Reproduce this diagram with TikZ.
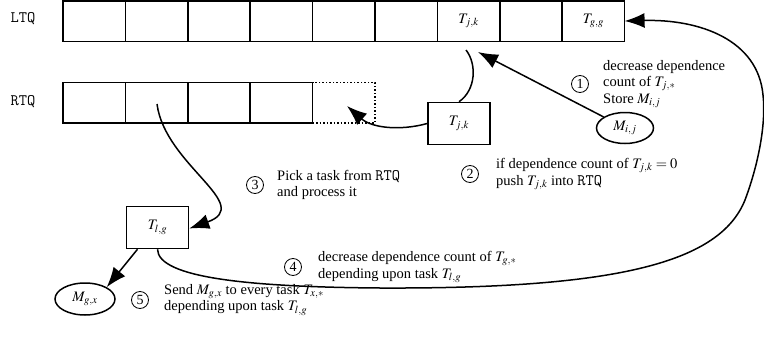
\documentclass[tikz,border=0pt]{standalone}
\usepackage{mathptmx}
\usepackage{fontspec}
\setmainfont{Liberation Serif}
\usetikzlibrary{arrows.meta,shapes.geometric}
\newcommand\qtt[1]{{\fontsize{16}{16}\selectfont\ttfamily #1}}
\tikzset{
  base/.style={line width=1.5pt},
  cell/.style={base,draw,rectangle,minimum width=62.4pt,minimum height=40.5pt,inner sep=0pt,outer sep=0pt},
  taskbox/.style={base,draw,rectangle,minimum width=62pt,minimum height=42pt,inner sep=0pt},
  msg/.style={base,draw,ellipse,minimum width=57pt,minimum height=31pt,inner sep=0pt},
  num/.style={draw,circle,line width=0.8pt,minimum size=17pt,inner sep=0pt,font=\fontsize{14}{15}\selectfont},
  txt/.style={anchor=west,align=left,inner sep=0pt,font=\fontsize{14.5}{16.5}\selectfont},
  qlabel/.style={inner sep=0pt},
  arr/.style={base,-{Latex[length=20pt,width=15pt]}},
  conn/.style={base}
}
\begin{document}
\begin{tikzpicture}[x=1pt,y=-1pt,every node/.append style={font=\fontsize{14.5}{16.5}\selectfont}]
\useasboundingbox (0,0) rectangle (764,343);
% queues
\node[qlabel] (ltq) at (23,19) {\qtt{LTQ}};
\node[qlabel] (rtq) at (23,102) {\qtt{RTQ}};
\foreach \i in {1,...,9} {
  \node[cell] (l\i) at ({63+62.4*(\i-0.5)},21) {};
}
\node at (l7) {$T_{j,k}$};
\node at (l9) {$T_{g,g}$};
\foreach \i in {1,...,4} {
  \node[cell] (r\i) at ({63+62.4*(\i-0.5)},102.5) {};
}
\node[cell,dotted] (r5) at ({63+62.4*4.5},102.5) {};
% tasks and messages
\node[taskbox] (tjk) at (459,123.5) {$T_{j,k}$};
\node[msg] (mij) at (625,128) {$M_{i,j}$};
\node[taskbox] (tlg) at (157.5,227.5) {$T_{l,g}$};
\node[msg,minimum width=60pt,minimum height=32pt] (mgx) at (85,299) {$M_{g,x}$};
% coordinates
\coordinate (a1) at (478,52);
\coordinate (c2s) at (466,50);
\coordinate (r2in) at (157,104);
\coordinate (dt) at (347,106);
% connectors
\draw[arr] (mij) -- (a1);
\draw[conn] (c2s) .. controls (477,64) and (476,90) .. (tjk.north);
\draw[arr] (tjk.west) .. controls (400,131) and (372,128) .. (dt);
\draw[arr] (r2in) .. controls (165,165) and (255,205) .. ([yshift=-1pt]tlg.east);
\draw[arr] ([xshift=-20pt]tlg.south) -- (mgx.north east);
\draw[arr] (tlg.south) .. controls (158,278) and (250,287) .. (380,288)
   .. controls (620,289) and (720,262) .. (745,200)
   .. controls (760,160) and (766,120) .. (763,95)
   .. controls (758,40) and (700,19) .. (l9.east);
% numbers and texts
\node[num] (n1) at (580,84) {1};
\node[txt] (t1) at (603,84) {decrease dependence\\count of $T_{j,*}$\\Store $M_{i,j}$};
\node[num] (n2) at (470,174) {2};
\node[txt] (t2) at (496,174) {if dependence count of $T_{j,k}=0$\\push $T_{j,k}$ into \qtt{RTQ}};
\node[num] (n3) at (255,185) {3};
\node[txt] (t3) at (277,185) {Pick a task from \qtt{RTQ}\\and process it};
\node[num] (n4) at (293,267) {4};
\node[txt] (t4) at (318,267) {decrease dependence count of $T_{g,*}$\\depending upon task $T_{l,g}$};
\node[num] (n5) at (140,300) {5};
\node[txt] (t5) at (164,300) {Send $M_{g,x}$ to every task $T_{x,*}$\\depending upon task $T_{l,g}$};
\end{tikzpicture}
\end{document}
